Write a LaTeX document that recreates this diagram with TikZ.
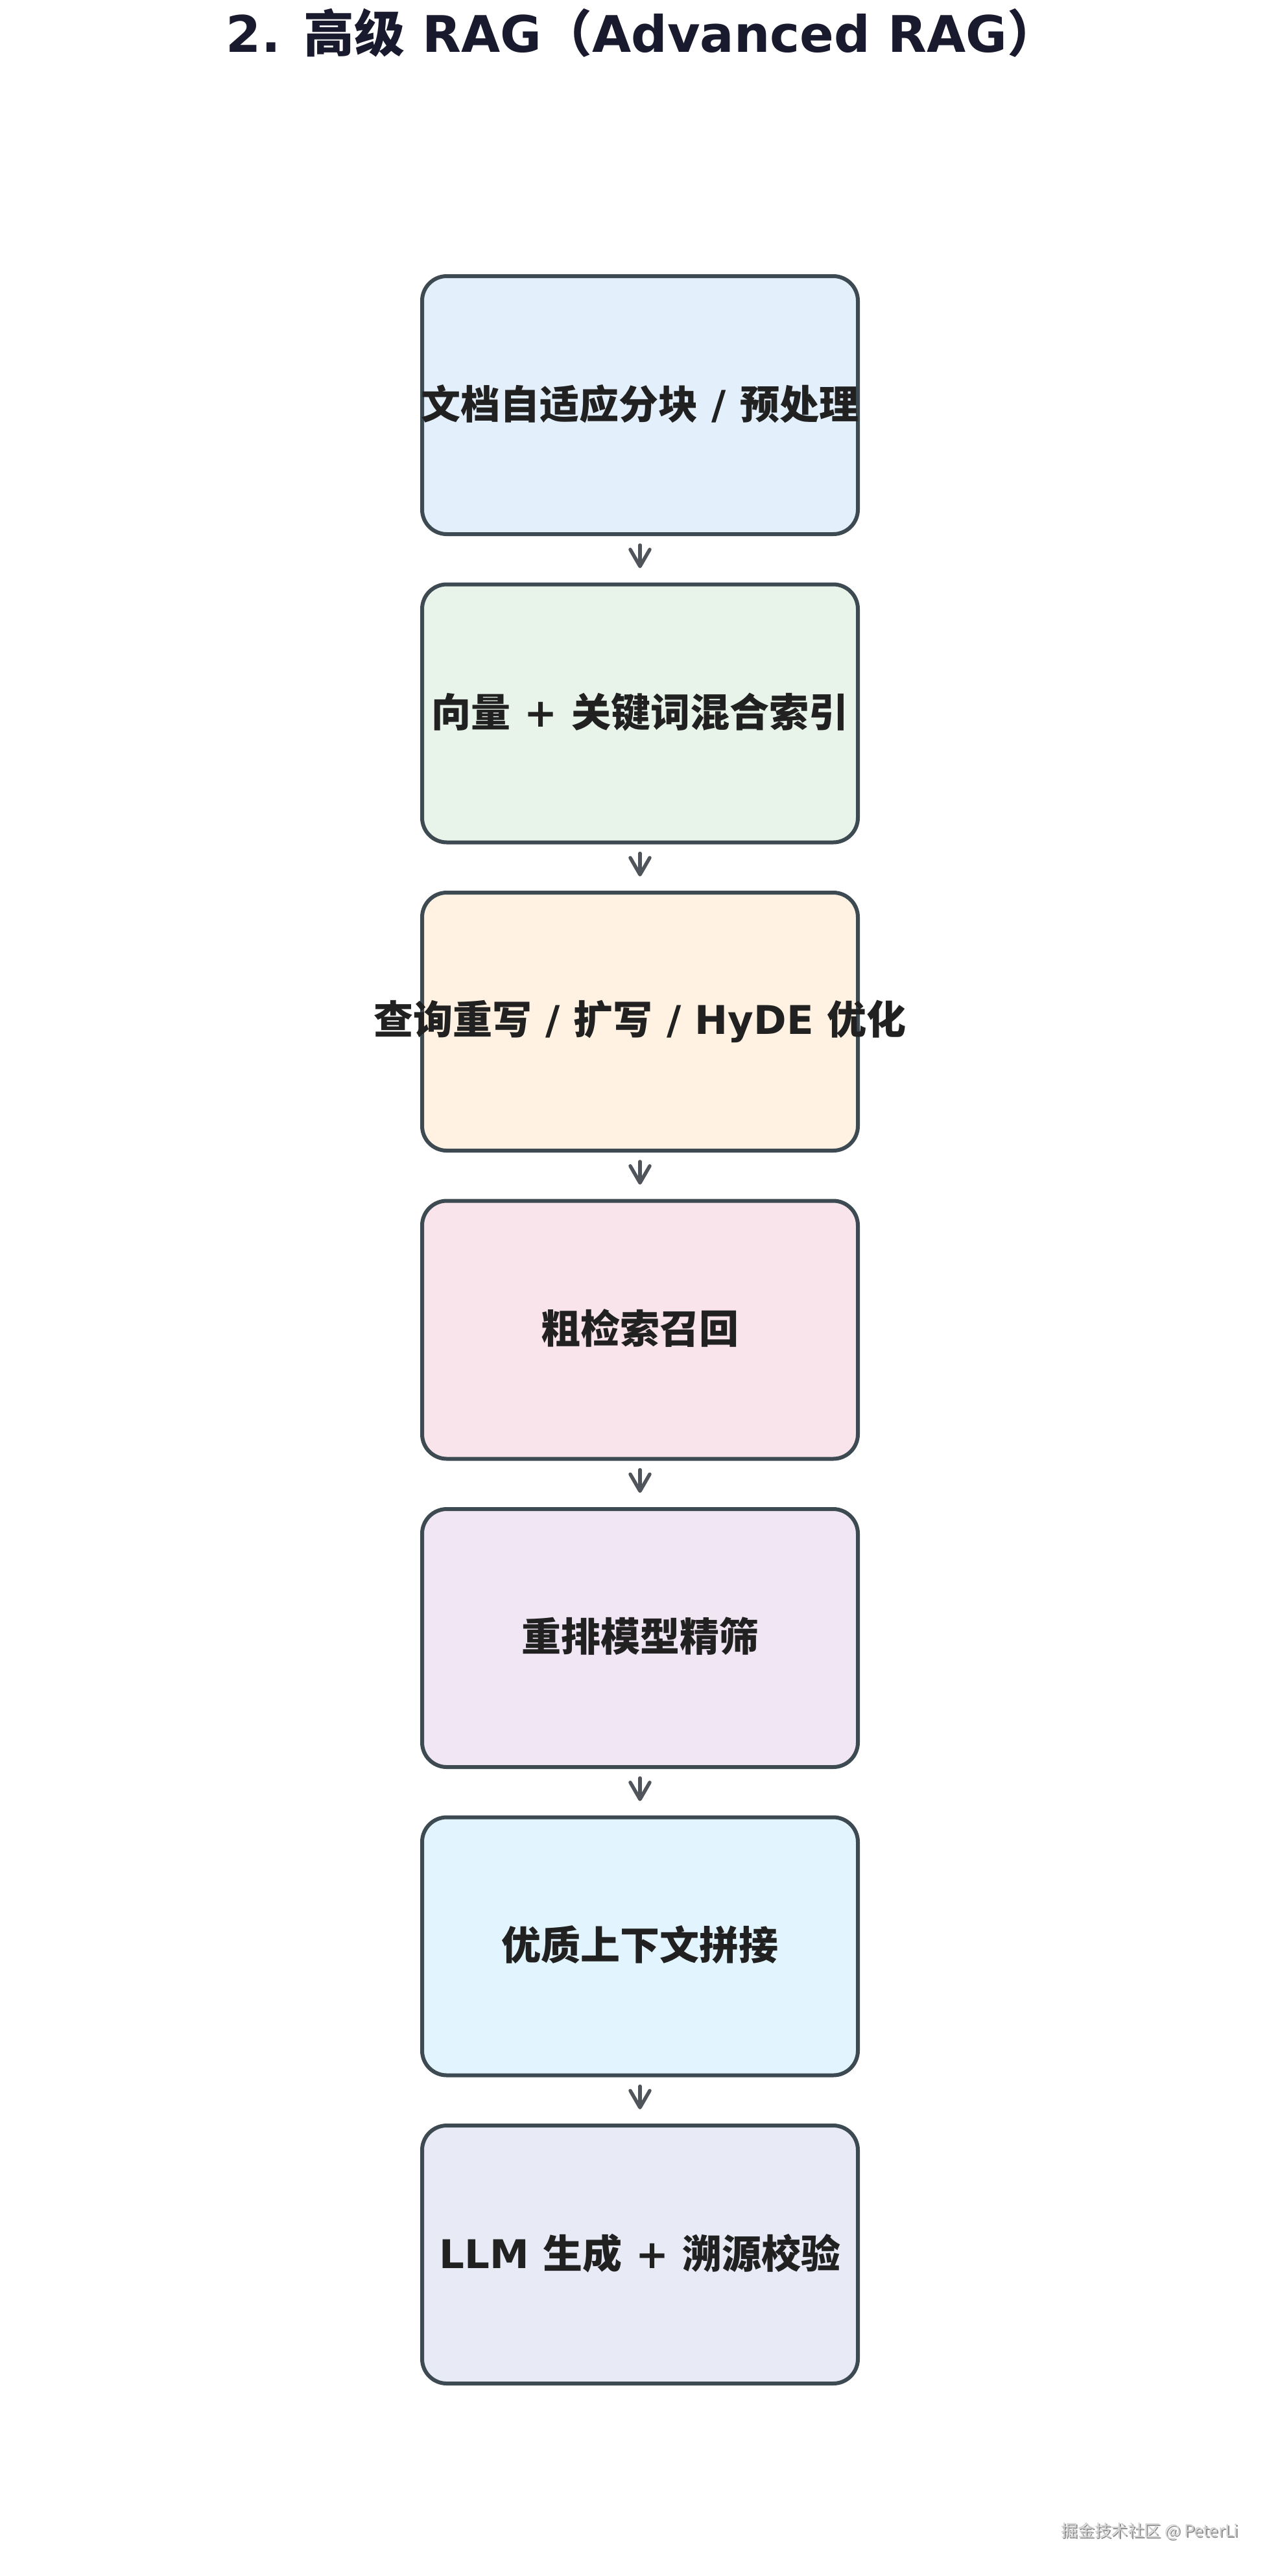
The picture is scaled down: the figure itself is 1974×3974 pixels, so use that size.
\documentclass[tikz,border=0pt]{standalone}
\usepackage{fontspec}
\setmainfont{DejaVu Sans}
\newfontfamily\cjk{Noto Sans CJK SC}
\usetikzlibrary{arrows.meta}
\definecolor{bordercol}{HTML}{3E4A52}
\definecolor{txtcol}{HTML}{212121}
\definecolor{titlecol}{HTML}{1A1A2E}
\definecolor{arrowcol}{HTML}{50555B}
\definecolor{cA}{HTML}{E3F0FC}
\definecolor{cB}{HTML}{E8F4EA}
\definecolor{cC}{HTML}{FFF2E2}
\definecolor{cD}{HTML}{F9E4EC}
\definecolor{cE}{HTML}{F1E6F4}
\definecolor{cF}{HTML}{E2F4FD}
\definecolor{cG}{HTML}{E8EAF6}
\newcommand{\boxtext}[1]{\makebox[0pt]{\raisebox{5.5pt}{#1}}}
\tikzset{
  stepbox/.style={draw=bordercol, line width=3pt, rounded corners=19pt,
    minimum width=336pt, minimum height=199pt, inner sep=0pt,
    font=\fontsize{30.5}{36}\selectfont\bfseries, text=txtcol},
  flow/.style={draw=arrowcol, line width=2.75pt, line cap=round,
    -{Straight Barb[length=13pt,width=15pt,line cap=round,line join=round]}}
}
\begin{document}
\begin{tikzpicture}[x=0.5pt,y=-0.5pt]
\useasboundingbox (0,0) rectangle (1974,3974);
\node[font=\fontsize{38.9}{46}\selectfont\bfseries, text=titlecol] (title) at (990,51)
  {2. {\cjk 高级} RAG{\cjk （}Advanced RAG{\cjk ）}};
\node[stepbox, fill=cA] (b1) at (987,625) {\boxtext{{\cjk 文档自适应分块} / {\cjk 预处理}}};
\node[stepbox, fill=cB] (b2) at (987,1100.5) {\boxtext{{\cjk 向量} + {\cjk 关键词混合索引}}};
\node[stepbox, fill=cC] (b3) at (987,1576) {\boxtext{{\cjk 查询重写} / {\cjk 扩写} / HyDE {\cjk 优化}}};
\node[stepbox, fill=cD] (b4) at (987,2051.5) {\boxtext{{\cjk 粗检索召回}}};
\node[stepbox, fill=cE] (b5) at (987,2527) {\boxtext{{\cjk 重排模型精筛}}};
\node[stepbox, fill=cF] (b6) at (987,3002.5) {\boxtext{{\cjk 优质上下文拼接}}};
\node[stepbox, fill=cG] (b7) at (987,3478) {\boxtext{LLM {\cjk 生成} + {\cjk 溯源校验}}};
\foreach \a/\b in {b1/b2,b2/b3,b3/b4,b4/b5,b5/b6,b6/b7}{
  \draw[flow] ([yshift=-7pt]\a.south) -- ([yshift=11pt]\b.north);
}
\node[font=\fontsize{12.8}{16}\selectfont\cjk, text=black!45, anchor=east] (wmshadow) at (1919,3907) {掘金技术社区 @ PeterLi};
\node[font=\fontsize{12.8}{16}\selectfont\cjk, text=black!18, anchor=east] (wm) at (1917,3905) {掘金技术社区 @ PeterLi};
\end{tikzpicture}
\end{document}
